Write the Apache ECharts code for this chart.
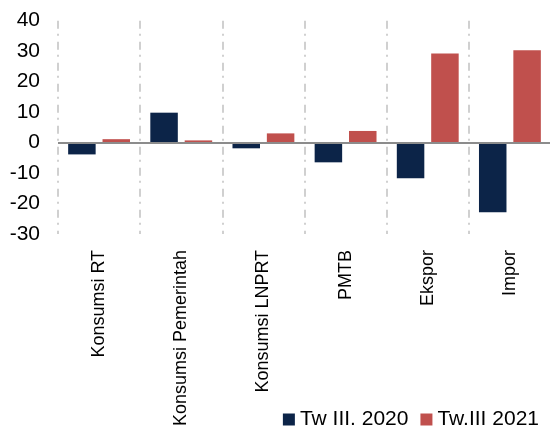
<!DOCTYPE html>
<html>
<head>
<meta charset="utf-8">
<style>
  html, body { margin: 0; padding: 0; background: #fff; }
  #chart { width: 550px; height: 430px; }
</style>
<script src="https://cdn.jsdelivr.net/npm/echarts@6/dist/echarts.min.js"></script>
</head>
<body>
<div id="chart"></div>
<script>
// Pertumbuhan komponen PDB sisi pengeluaran (%, yoy)
const categories = ['Konsumsi RT', 'Konsumsi Pemerintah', 'Konsumsi LNPRT', 'PMTB', 'Ekspor', 'Impor'];
const seriesNames = ['Tw III. 2020', 'Tw.III 2021'];
const tw3_2020 = [-3.9, 9.8, -1.9, -6.5, -11.7, -22.9];
const tw3_2021 = [1.1, 0.7, 3.0, 3.8, 29.2, 30.3];
const yTicks = { min: -30, max: 40, interval: 10 };

const FONT = "'Liberation Sans', Arial, sans-serif";
const NAVY = '#0C2448';
const RED = '#C0504D';

const chart = echarts.init(document.getElementById('chart'), null, { renderer: 'canvas' });

chart.setOption({
  animation: false,
  backgroundColor: '#ffffff',
  grid: { left: 58, right: -1, top: 20.7, height: 213.2, containLabel: false, outerBoundsMode: 'none' },
  legend: {
    data: seriesNames,
    right: 6,
    bottom: -5,
    icon: 'rect',
    itemWidth: 12,
    itemHeight: 12,
    itemGap: 12,
    textStyle: { fontFamily: FONT, fontSize: 21, color: '#000' }
  },
  xAxis: {
    type: 'category',
    data: categories,
    position: 'bottom',
    axisLine: { show: false, onZero: false },
    axisTick: { show: false },
    axisLabel: { rotate: 90, margin: 16, interval: 0, fontFamily: FONT, fontSize: 18, color: '#000' },
    // dash-dot separators between categories
    splitLine: { show: true, interval: 0, lineStyle: { color: '#d0d0d0', width: 2, type: [8, 5, 2, 6] } }
  },
  yAxis: {
    type: 'value',
    min: yTicks.min, max: yTicks.max, interval: yTicks.interval,
    axisLine: { show: false }, axisTick: { show: false }, splitLine: { show: false },
    axisLabel: { margin: 18, fontFamily: FONT, fontSize: 21, color: '#000' }
  },
  series: [
    {
      name: seriesNames[0], type: 'bar', data: tw3_2020, barWidth: 27.5, barGap: '25%',
      itemStyle: { color: NAVY },
      // zero baseline
      markLine: { silent: true, symbol: 'none', label: { show: false },
        lineStyle: { color: '#8c8c8c', width: 2, type: 'solid' }, data: [{ yAxis: 0 }], z: 5 }
    },
    { name: seriesNames[1], type: 'bar', data: tw3_2021, barWidth: 27.5, itemStyle: { color: RED } }
  ]
});
</script>
</body>
</html>
